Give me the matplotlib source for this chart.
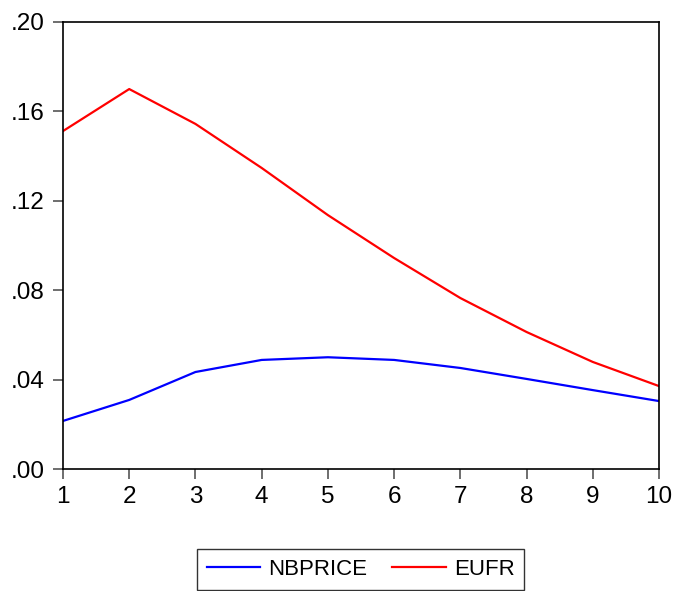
import matplotlib
matplotlib.use("Agg")
import matplotlib.pyplot as plt
from matplotlib.ticker import FuncFormatter

periods = [1, 2, 3, 4, 5, 6, 7, 8, 9, 10]
nbprice = [0.0215, 0.0309, 0.0434, 0.0488, 0.0500, 0.0488, 0.0452, 0.0403, 0.0353, 0.0304]
eufr = [0.1512, 0.1700, 0.1544, 0.1347, 0.1136, 0.0944, 0.0765, 0.0613, 0.0479, 0.0371]
yticks = [0.00, 0.04, 0.08, 0.12, 0.16, 0.20]

plt.rcParams['font.family'] = ['Liberation Sans', 'DejaVu Sans']

fig = plt.figure(figsize=(6.77, 5.91), dpi=100)
W, H = 677, 591
ax = fig.add_axes([63 / W, 1 - 469 / H, (659 - 63) / W, (469 - 22) / H])

ax.plot(periods, nbprice, color='#0000ff', lw=1.6, label='NBPRICE')
ax.plot(periods, eufr, color='#ff0000', lw=1.6, label='EUFR')

ax.set_xlim(1, 10)
ax.set_ylim(0, 0.20)
ax.set_xticks(periods)
ax.set_yticks(yticks)
ax.yaxis.set_major_formatter(FuncFormatter(lambda v, p: ('%.2f' % v).lstrip('0')))

for s in ax.spines.values():
    s.set_color('black')
    s.set_linewidth(1.2)

ax.tick_params(axis='both', direction='out', length=7, width=1.2, color='#555555',
               labelsize=17.5, labelcolor='black')
ax.tick_params(axis='y', pad=6)
ax.tick_params(axis='x', pad=5)

fig.legend(loc='upper center', bbox_to_anchor=(360.5 / W, 1 - 549 / H), ncol=2,
           frameon=True, fancybox=False, edgecolor='black', fontsize=16,
           handlelength=2.4, handletextpad=0.36, columnspacing=1.15,
           borderpad=0.45, borderaxespad=0)
leg = fig.legends[0]
leg.get_frame().set_linewidth(1.0)

fig.savefig('out.png', dpi=100)
